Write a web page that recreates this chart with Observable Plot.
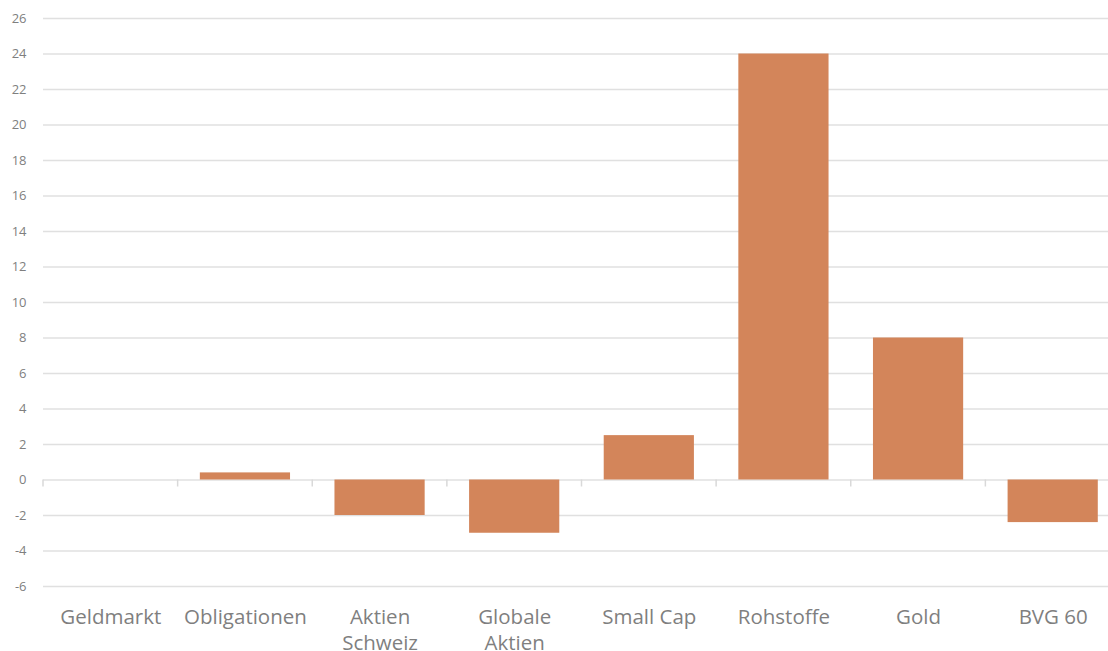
<!DOCTYPE html>
<html>
<head>
<meta charset="utf-8">
<script src="https://cdn.jsdelivr.net/npm/d3@7"></script>
<script src="https://cdn.jsdelivr.net/npm/@observablehq/plot@0.6"></script>
<style>
  html, body { margin: 0; padding: 0; background: #fff; overflow: hidden; }
  #chart { width: 1108px; height: 651px; overflow: hidden; }
  svg { overflow: visible; }
</style>
</head>
<body>
<div id="chart"></div>
<script>
const categories = ["Geldmarkt", "Obligationen", "Aktien Schweiz", "Globale Aktien", "Small Cap", "Rohstoffe", "Gold", "BVG 60"];
const values = [0, 0.4, -2, -3, 2.5, 24, 8, -2.4];
const xLabels = ["Geldmarkt", "Obligationen", "Aktien\nSchweiz", "Globale\nAktien", "Small Cap", "Rohstoffe", "Gold", "BVG 60"];
const yTicks = [-6, -4, -2, 0, 2, 4, 6, 8, 10, 12, 14, 16, 18, 20, 22, 24, 26];

const data = categories.map((c, i) => ({category: c, value: values[i], label: xLabels[i]}));

const font = "'Open Sans', sans-serif";

// Category separator ticks on the zero line, computed from the band scale
function separatorTicks(index, scales, values, dims) {
  const x = scales.x, y = scales.y;
  const g = d3.create("svg:g");
  const step = x.step();
  const y0 = y(0);
  const xs = categories.map(c => x(c) - (step - x.bandwidth()) / 2);
  for (const xv of xs) {
    g.append("line")
      .attr("x1", xv).attr("x2", xv)
      .attr("y1", y0).attr("y2", y0 + 7)
      .attr("stroke", "#d9d9d9").attr("stroke-width", 1.5);
  }
  return g.node();
}

const chart = Plot.plot({
  width: 1108,
  height: 651,
  marginLeft: 43,
  marginRight: -12,
  marginTop: 18,
  marginBottom: 65,
  style: {fontFamily: font, background: "#fff"},
  x: {domain: categories, paddingInner: 0.33, paddingOuter: 0.165, round: false, axis: null},
  y: {domain: [-6, 26], axis: null},
  marks: [
    Plot.ruleY(yTicks, {stroke: "#e0e0e0", strokeWidth: 1.5}),
    separatorTicks,
    Plot.barY(data, {x: "category", y: "value", fill: "#d3855a"}),
    Plot.text(yTicks, {
      y: d => d, text: d => String(d),
      frameAnchor: "left", textAnchor: "end", dx: -17,
      fill: "#7f7f7f", fontSize: 13, fontFamily: font
    }),
    Plot.text(data, {
      x: "category", y: () => -6, text: "label",
      lineAnchor: "top", dy: 19, lineHeight: 1.27,
      fill: "#7f7f7f", fontSize: 20.5, fontFamily: font
    })
  ]
});
document.getElementById("chart").appendChild(chart);
</script>
</body>
</html>
